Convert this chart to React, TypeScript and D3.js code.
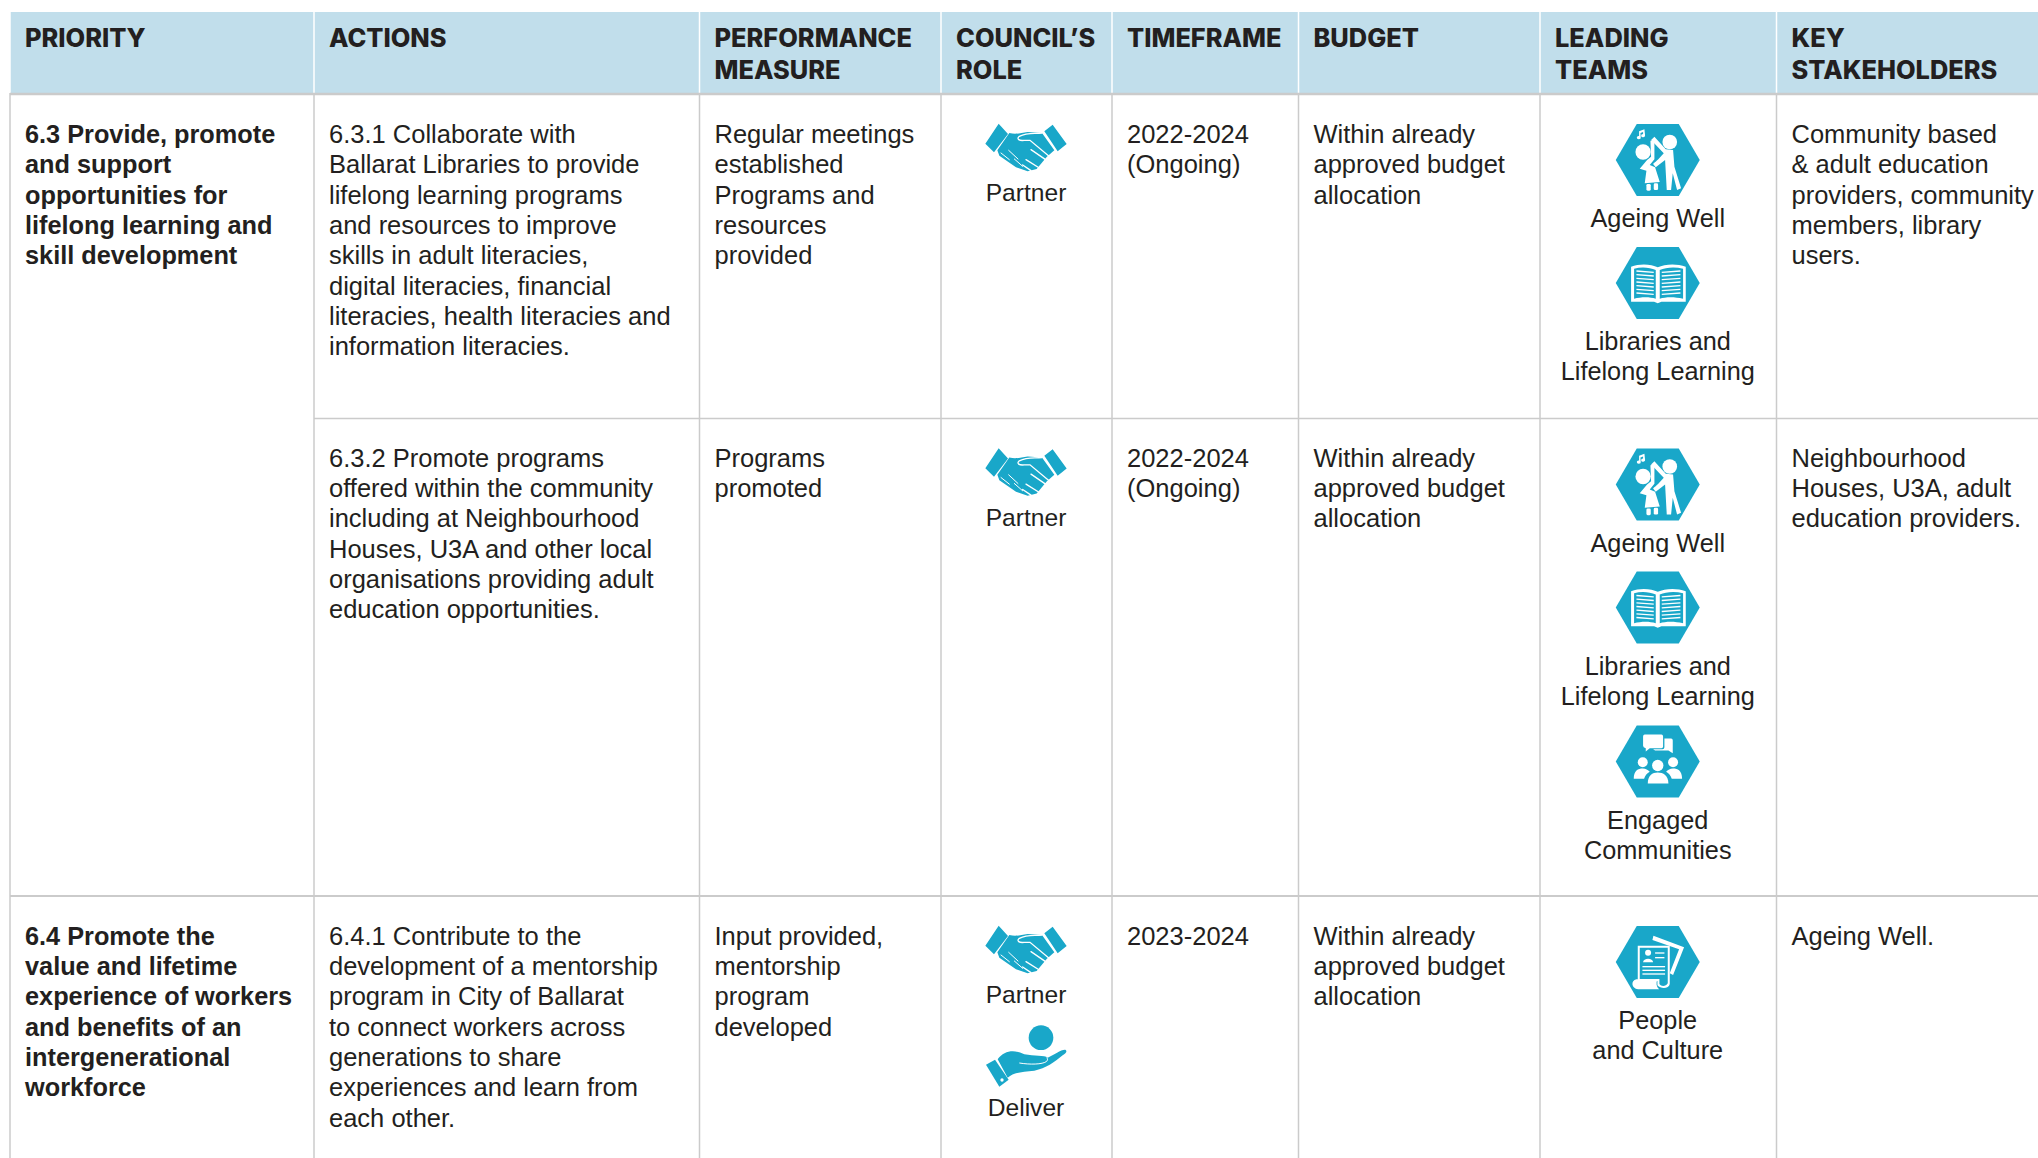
import React from 'react';
import * as d3 from 'd3';

// table content
const headers = [['PRIORITY'], ['ACTIONS'], ['PERFORMANCE', 'MEASURE'], ['COUNCIL’S', 'ROLE'], ['TIMEFRAME'], ['BUDGET'], ['LEADING', 'TEAMS'], ['KEY', 'STAKEHOLDERS']];
const columns = ['priority', 'actions', 'measure', 'role', 'timeframe', 'budget', 'teams', 'stakeholders'];
const rowNames = ['r1', 'r2', 'r3'];

const priorities = [
  ['6.3 Provide, promote', 'and support', 'opportunities for', 'lifelong learning and', 'skill development'],
  [],
  ['6.4 Promote the', 'value and lifetime', 'experience of workers', 'and benefits of an', 'intergenerational', 'workforce'],
];
const actions = [
  ['6.3.1 Collaborate with', 'Ballarat Libraries to provide', 'lifelong learning programs', 'and resources to improve', 'skills in adult literacies,', 'digital literacies, financial', 'literacies, health literacies and', 'information literacies.'],
  ['6.3.2 Promote programs', 'offered within the community', 'including at Neighbourhood', 'Houses, U3A and other local', 'organisations providing adult', 'education opportunities.'],
  ['6.4.1 Contribute to the', 'development of a mentorship', 'program in City of Ballarat', 'to connect workers across', 'generations to share', 'experiences and learn from', 'each other.'],
];
const measures = [
  ['Regular meetings', 'established', 'Programs and', 'resources', 'provided'],
  ['Programs', 'promoted'],
  ['Input provided,', 'mentorship', 'program', 'developed'],
];
const roles = [['Partner'], ['Partner'], ['Partner', 'Deliver']];
const timeframes = [['2022-2024', '(Ongoing)'], ['2022-2024', '(Ongoing)'], ['2023-2024']];
const budgets = [
  ['Within already', 'approved budget', 'allocation'],
  ['Within already', 'approved budget', 'allocation'],
  ['Within already', 'approved budget', 'allocation'],
];
const teams = [['ageing', 'libraries'], ['ageing', 'libraries', 'engaged'], ['people']];
const teamLabels: Record<string, string[]> = {
  ageing: ['Ageing Well'],
  libraries: ['Libraries and', 'Lifelong Learning'],
  engaged: ['Engaged', 'Communities'],
  people: ['People', 'and Culture'],
};
const stakeholders = [
  ['Community based', '& adult education', 'providers, community', 'members, library', 'users.'],
  ['Neighbourhood', 'Houses, U3A, adult', 'education providers.'],
  ['Ageing Well.'],
];

const INK = '#231f20';
const TEAL = '#19a7c9';
const RULE = '#cbcbcb';
const BODY = '"Liberation Sans", Arial, sans-serif';
const HEAD = 'Inter, sans-serif';

const W = 2038;
const H = 1158;
const colX = d3.scaleOrdinal<string, number>().domain(columns).range([10, 314, 699.5, 941, 1112, 1298.5, 1540, 1776.5]);
const rowY = d3.scaleOrdinal<string, number>().domain(rowNames).range([94, 418.5, 896]);
const PAD = 15;
const LINE = 30.35;
const firstLine: Record<string, number> = { r1: 49, r2: 48, r3: 48.5 };

const hexLine = d3.line();
const hexagon = hexLine([[-42, 0], [-21, -36], [21, -36], [42, 0], [21, 36], [-21, 36]]) + 'Z';

// icons are drawn in 3x crop units, centred on 0,0
const Handshake = () => (
  <g transform="scale(0.3333) translate(-200,-142)">
    <path d="M118,72 L146,103 L104,158 L78,132Z M280,75 L322,133 L295,155 L255,95Z" fill={TEAL} />
    <path d="M150,100 C170,105 185,100 205,97 L248,100 L285,152 L262,172 L232,208 L205,215 L170,203 L120,168 L114,152Z" fill={TEAL} />
    <g fill="none" stroke="#fff" strokeWidth={4} strokeLinecap="round">
      <path d="M248,100 C225,103 205,98 180,110 C170,118 180,124 195,122 L212,122 L272,172" />
      <path d="M200,180 L240,205 M215,150 L262,182 M190,196 L215,213" />
      <path d="M125,160 L150,180 M148,152 L176,178 M165,178 L190,200" strokeWidth={3} />
    </g>
  </g>
);

const Deliver = () => (
  <g transform="scale(0.3333) translate(-200,-147)">
    <circle cx={245} cy={77} r={37} fill={TEAL} />
    <path d="M80,158 L107,143 L148,203 L120,224Z" fill={TEAL} />
    <circle cx={128} cy={204} r={5} fill="#fff" />
    <path d="M115,142 C135,115 165,112 195,127 C225,133 255,130 265,137 C285,128 305,112 318,113 C325,117 320,125 310,130 C285,150 260,170 225,176 C190,180 165,180 145,197Z" fill={TEAL} />
    <path d="M180,153 C210,158 250,158 262,148 C266,143 265,140 262,137" fill="none" stroke="#fff" strokeWidth={3} />
  </g>
);

const hexIcons: Record<string, React.ReactNode> = {
  ageing: (
    <g transform="scale(0.3333) translate(-204,-150)" fill="#fff" stroke="none">
      <circle cx={240} cy={96} r={22} />
      <path d="M228,118 L194,80 L184,90 L222,130 C205,150 195,158 190,162 L198,172 L226,150 L231,240 L244,240 L249,190 L262,240 L274,235 L254,170 L250,120Z" />
      <circle cx={160} cy={126} r={23} />
      <path d="M182,92 L194,90 L194,148 L180,165 L196,172 L210,216 L165,220 L170,182 L150,176 L172,150 L184,140Z" />
      <rect x={170} y={222} width={13} height={20} rx={4} />
      <rect x={192} y={220} width={13} height={20} rx={4} />
      <path d="M148,64 L164,58 L166,76 A6,5 0 1 1 160,72 L160,66 L152,69 L153,82 A6,5 0 1 1 148,78Z" />
    </g>
  ),
  libraries: (
    <g transform="scale(0.3333) translate(-204,-519)">
      <path d="M124,470 C150,460 185,462 204,472 C225,462 260,460 288,470 L288,575 L215,575 L204,580 L193,575 L124,575Z" fill="#fff" />
      <path d="M133,476 C155,470 180,472 198,480 L198,566 C180,560 155,560 133,566Z M210,480 C228,472 255,470 280,476 L280,566 C255,560 228,560 210,566Z" fill={TEAL} />
      <g stroke="#fff" strokeWidth={4}>
        {[0, 1, 2, 3, 4, 5, 6].map(i => (
          <g key={i}>
            <line x1={140} x2={192} y1={483 + i * 11} y2={487 + i * 11} />
            <line x1={216} x2={272} y1={487 + i * 11} y2={483 + i * 11} />
          </g>
        ))}
      </g>
    </g>
  ),
  engaged: (
    <g transform="scale(0.3333) translate(-204,-153)" fill="#fff">
      <path d="M165,72 L215,72 Q220,72 220,78 L220,108 Q220,113 215,113 L180,113 L168,123 L168,113 Q160,112 160,106 L160,78 Q160,72 165,72Z" />
      <path d="M224,84 L244,84 Q249,84 249,89 L249,128 L236,120 L196,120 L190,116 L218,116 Q224,116 224,110Z" />
      <circle cx={159} cy={155} r={15} />
      <circle cx={250} cy={155} r={15} />
      <circle cx={204} cy={165} r={17} />
      <path d="M132,205 C132,180 145,174 159,174 C168,174 175,178 180,184 C172,188 166,195 163,205Z" />
      <path d="M277,205 C277,180 264,174 250,174 C241,174 234,178 229,184 C237,188 243,195 246,205Z" />
      <path d="M174,219 C174,195 188,186 204,186 C220,186 236,195 236,219Z" />
    </g>
  ),
  people: (
    <g transform="scale(0.3333) translate(-204,-156)">
      <path d="M191,77 L283,112 L250,195 L240,190 L268,118 L188,90Z" fill="#fff" />
      <path d="M144,107 L240,107 L240,222 C238,236 214,238 203,226 L203,213 L144,213Z" fill="#fff" />
      <path d="M150,113 L234,113 L234,220 C228,230 214,230 209,222 L209,207 L150,207Z" fill={TEAL} />
      <path d="M140,208 L203,208 C198,220 200,230 208,238 L145,238 C125,236 122,212 140,208Z" fill="#fff" />
      <circle cx={175} cy={128} r={9} fill="#fff" />
      <path d="M160,157 C160,143 190,143 190,157Z" fill="#fff" />
      <g stroke="#fff" strokeWidth={4}>
        <line x1={196} x2={224} y1={129} y2={129} />
        <line x1={196} x2={224} y1={143} y2={143} />
        <line x1={158} x2={226} y1={170} y2={170} />
        <line x1={158} x2={226} y1={181} y2={181} />
        <line x1={158} x2={226} y1={192} y2={192} />
      </g>
    </g>
  ),
};

const teamOffsets: Record<string, number[]> = { 0: [66, 189], 1: [66, 189, 343], 2: [66] };
const teamLabelOffsets: Record<string, number> = { ageing: 67, libraries: 67, engaged: 67, people: 67 };

const Lines = ({ lines, x, y, weight = 400, anchor = 'start', size = 25.5 }: any) => (
  <text fontFamily={BODY} fontSize={size} fontWeight={weight} fill={INK} textAnchor={anchor}>
    {lines.map((l: string, i: number) => (
      <tspan key={i} x={x} y={y + i * LINE}>{l}</tspan>
    ))}
  </text>
);

export default function App() {
  const rightEdge = W;
  const teamX = (colX('teams') + colX('stakeholders')) / 2 - 0.5;
  const roleX = (colX('role') + colX('timeframe')) / 2 - 0.5;
  return (
    <svg width={W} height={H} style={{ position: 'absolute', left: 0, top: 0 }}>
      <rect x={0} y={0} width={W} height={H} fill="#fff" />
      <rect x={colX('priority')} y={12} width={rightEdge - 10} height={81} fill="#c1deeb" />
      {columns.map(c => (
        <line key={c} x1={colX(c)} x2={colX(c)} y1={12} y2={93} stroke="#fff" strokeWidth={1.5} />
      ))}
      {headers.map((lines, i) => (
        <text key={i} fontFamily={HEAD} fontSize={25.4} fontWeight={800} fill={INK}>
          {lines.map((l, j) => (
            <tspan key={j} x={colX(columns[i]) + PAD} y={47 + j * 32}>{l}</tspan>
          ))}
        </text>
      ))}
      {columns.map(c => (
        <line key={c} x1={colX(c)} x2={colX(c)} y1={93} y2={H} stroke={RULE} strokeWidth={1.5} />
      ))}
      <line x1={10} x2={W} y1={94} y2={94} stroke={RULE} strokeWidth={2.5} />
      <line x1={colX('actions')} x2={W} y1={rowY('r2')} y2={rowY('r2')} stroke={RULE} strokeWidth={1.5} />
      <line x1={10} x2={W} y1={rowY('r3')} y2={rowY('r3')} stroke={RULE} strokeWidth={2} />
      {rowNames.map((r, i) => {
        const top = rowY(r);
        const y = top + firstLine[r];
        return (
          <g key={r}>
            <Lines lines={priorities[i]} x={colX('priority') + PAD} y={y} weight={700} size={25.3} />
            <Lines lines={actions[i]} x={colX('actions') + PAD} y={y} />
            <Lines lines={measures[i]} x={colX('measure') + PAD} y={y} />
            <Lines lines={timeframes[i]} x={colX('timeframe') + PAD} y={y} />
            <Lines lines={budgets[i]} x={colX('budget') + PAD} y={y} />
            <Lines lines={stakeholders[i]} x={colX('stakeholders') + PAD} y={y} />
            {roles[i].map((role, k) => (
              <g key={role}>
                <g transform={`translate(${roleX},${top + 53 + k * 112})`}>
                  {role === 'Partner' ? <Handshake /> : <Deliver />}
                </g>
                <Lines lines={[role]} x={roleX} y={top + 107 + k * 112.5} anchor="middle" size={24.6} />
              </g>
            ))}
            {teams[i].map((team, k) => {
              const cy = top + teamOffsets[i][k];
              return (
                <g key={team}>
                  <g transform={`translate(${teamX},${cy})`}>
                    <path d={hexagon} fill={TEAL} />
                    {hexIcons[team]}
                  </g>
                  <Lines lines={teamLabels[team]} x={teamX} y={cy + teamLabelOffsets[team]} anchor="middle" size={25.3} />
                </g>
              );
            })}
          </g>
        );
      })}
    </svg>
  );
}
